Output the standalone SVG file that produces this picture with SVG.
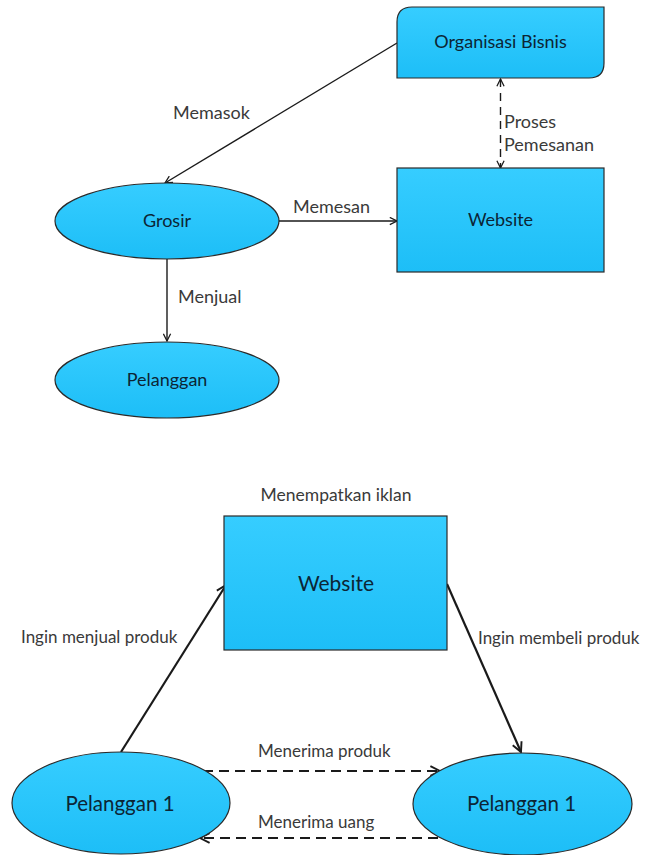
<svg xmlns="http://www.w3.org/2000/svg" width="645" height="855" viewBox="0 0 645 855">
<defs>
  <linearGradient id="fillg" x1="0" y1="0" x2="0" y2="1">
    <stop offset="0" stop-color="#36CDFF"/>
    <stop offset="1" stop-color="#1DBEF7"/>
  </linearGradient>
  <marker id="arr" viewBox="0 0 10 10" refX="9" refY="5" markerWidth="9" markerHeight="9" markerUnits="userSpaceOnUse" orient="auto-start-reverse">
    <path d="M1,1 L9,5 L1,9" fill="none" stroke="#1a1a1a" stroke-width="1.4"/>
  </marker>
  <marker id="arr2" viewBox="0 0 10 10" refX="9" refY="5" markerWidth="12" markerHeight="12" markerUnits="userSpaceOnUse" orient="auto-start-reverse">
    <path d="M1,1 L9,5 L1,9" fill="none" stroke="#1a1a1a" stroke-width="1.6"/>
  </marker>
</defs>
<style>
  .node { fill: url(#fillg); stroke: #2a2a2a; stroke-width: 1.2; }
  .nt { font-family: Lato, "Liberation Sans", sans-serif; fill: #0c2535; text-anchor: middle; }
  .lb { font-family: Lato, "Liberation Sans", sans-serif; fill: #3a3a3a; }
  .c1 { stroke: #1a1a1a; stroke-width: 1.4; fill: none; }
  .c2 { stroke: #1a1a1a; stroke-width: 2.2; fill: none; }
</style>

<g id="connectors">
  <line class="c1" x1="397" y1="43" x2="165" y2="183" marker-end="url(#arr)"/>
  <line class="c1" x1="279" y1="221" x2="397" y2="221" marker-end="url(#arr)"/>
  <line class="c1" x1="167" y1="259" x2="167" y2="341" marker-end="url(#arr)"/>
  <line class="c1" x1="500.5" y1="79" x2="500.5" y2="168" stroke-dasharray="8,6" marker-start="url(#arr)" marker-end="url(#arr)"/>
  <line class="c2" x1="121" y1="752" x2="226" y2="585" marker-end="url(#arr2)"/>
  <line class="c2" x1="447" y1="584" x2="521" y2="752" marker-end="url(#arr2)"/>
  <line class="c2" x1="203" y1="771" x2="440" y2="771" stroke-dasharray="10,6" marker-end="url(#arr2)"/>
  <line class="c2" x1="438" y1="838" x2="200" y2="838" stroke-dasharray="10,6" marker-end="url(#arr2)"/>
  <text class="lb" x="173" y="119" font-size="18">Memasok</text>
  <text class="lb" x="293" y="213" font-size="18">Memesan</text>
  <text class="lb" x="178" y="303" font-size="18">Menjual</text>
  <text class="lb" x="504" y="128" font-size="18">Proses</text>
  <text class="lb" x="504" y="151" font-size="18">Pemesanan</text>
  <text class="lb" x="21" y="643" font-size="17">Ingin menjual produk</text>
  <text class="lb" x="478" y="644" font-size="17">Ingin membeli produk</text>
  <text class="lb" x="258" y="757" font-size="17">Menerima produk</text>
  <text class="lb" x="258" y="828" font-size="17">Menerima uang</text>
</g>

<g id="organisasi-bisnis">
  <path class="node" d="M412,7 L604,7 L604,63 Q604,78 589,78 L397,78 L397,22 Q397,7 412,7 Z"/>
  <text class="nt" x="500.5" y="48" font-size="18">Organisasi Bisnis</text>
</g>
<g id="website-top">
  <rect class="node" x="397" y="168" width="207" height="104"/>
  <text class="nt" x="500.5" y="226" font-size="18">Website</text>
</g>
<g id="grosir">
  <ellipse class="node" cx="167" cy="221" rx="112" ry="38"/>
  <text class="nt" x="167" y="227" font-size="18">Grosir</text>
</g>
<g id="pelanggan">
  <ellipse class="node" cx="167" cy="380" rx="112" ry="38"/>
  <text class="nt" x="167" y="386" font-size="18">Pelanggan</text>
</g>

<g id="website-bottom">
  <text class="lb" x="336" y="501" font-size="17.5" text-anchor="middle">Menempatkan iklan</text>
  <rect class="node" x="224" y="516" width="223" height="134"/>
  <text class="nt" x="336" y="591" font-size="21">Website</text>
</g>
<g id="pelanggan-1-left">
  <ellipse class="node" cx="121" cy="803" rx="109" ry="51"/>
  <text class="nt" x="120" y="811" font-size="20.5">Pelanggan 1</text>
</g>
<g id="pelanggan-1-right">
  <ellipse class="node" cx="522.5" cy="804" rx="109.5" ry="51"/>
  <text class="nt" x="521.5" y="811" font-size="20.5">Pelanggan 1</text>
</g>
</svg>
